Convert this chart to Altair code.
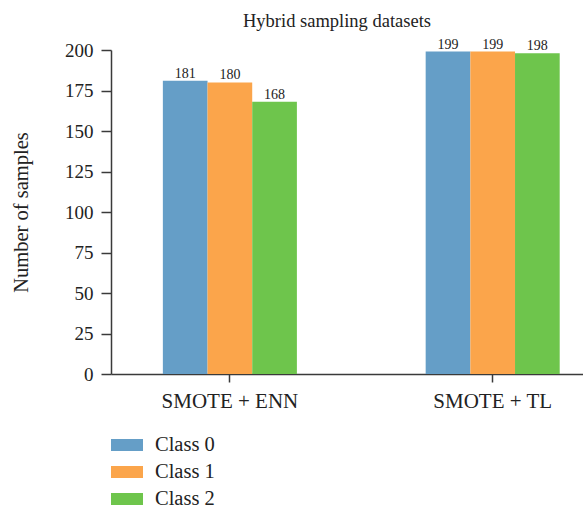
import altair as alt
import pandas as pd

methods = ["SMOTE + ENN", "SMOTE + TL"]
classes = ["Class 0", "Class 1", "Class 2"]
enn_counts = [181, 180, 168]
tl_counts = [199, 199, 198]
colors = ["#659EC7", "#FBA54B", "#6EC54C"]
y_ticks = [0, 25, 50, 75, 100, 125, 150, 175, 200]

rows = []
for m, vals in zip(methods, [enn_counts, tl_counts]):
    for c, v in zip(classes, vals):
        rows.append({"method": m, "cls": c, "count": v})
df = pd.DataFrame(rows)

FONT = "Liberation Serif"
AX = "#3a3a3a"

x = alt.X(
    "method:N",
    sort=methods,
    scale=alt.Scale(paddingInner=0.49, paddingOuter=0.143, align=0.69),
    axis=alt.Axis(
        title=None, labelAngle=0, labelFont=FONT, labelFontSize=21,
        labelColor="#222", tickSize=8, labelPadding=8, domainColor=AX,
        tickColor=AX, domainWidth=1.5, tickWidth=1.5,
    ),
)
y = alt.Y(
    "count:Q",
    scale=alt.Scale(domain=[0, 200], nice=False),
    axis=alt.Axis(
        values=y_ticks, title="Number of samples", titleFont=FONT,
        titleFontSize=20.5, titleFontWeight="normal", titleColor="#222",
        titlePadding=33, labelFont=FONT, labelFontSize=19, labelColor="#222",
        tickSize=10, labelPadding=8, grid=False, domainColor=AX,
        tickColor=AX, domainWidth=1.5, tickWidth=1.5,
    ),
)
xo = alt.XOffset("cls:N", sort=classes, scale=alt.Scale(paddingInner=0, paddingOuter=0))

base = alt.Chart(df).encode(x=x, y=y, xOffset=xo)

bars = base.mark_bar().encode(
    color=alt.Color(
        "cls:N",
        scale=alt.Scale(domain=classes, range=colors),
        legend=alt.Legend(
            title=None, orient="none", legendX=0, legendY=379, padding=0,
            symbolType="M-1,-0.375H1V0.375H-1Z", symbolSize=1024,
            symbolStrokeWidth=0, symbolOpacity=1, labelFont=FONT,
            labelFontSize=20.5, labelColor="#222", labelOffset=12, rowPadding=-1.3,
        ),
    )
)
text = base.mark_text(
    baseline="alphabetic", dy=-3, fontSize=14, font=FONT, color="#222"
).encode(text="count:Q")

chart = (
    (bars + text)
    .properties(
        width=472,
        height=324,
        title=alt.TitleParams(
            "Hybrid sampling datasets", font=FONT, fontSize=18.5,
            fontWeight="normal", color="#222", offset=7, dx=-10,
        ),
        padding={"left": 111, "top": 50, "right": 0, "bottom": 134},
        autosize=alt.AutoSizeParams(type="none"),
    )
    .configure_view(stroke=None)
)

chart.save("out.html", embed_options={"renderer": "svg", "actions": False})
